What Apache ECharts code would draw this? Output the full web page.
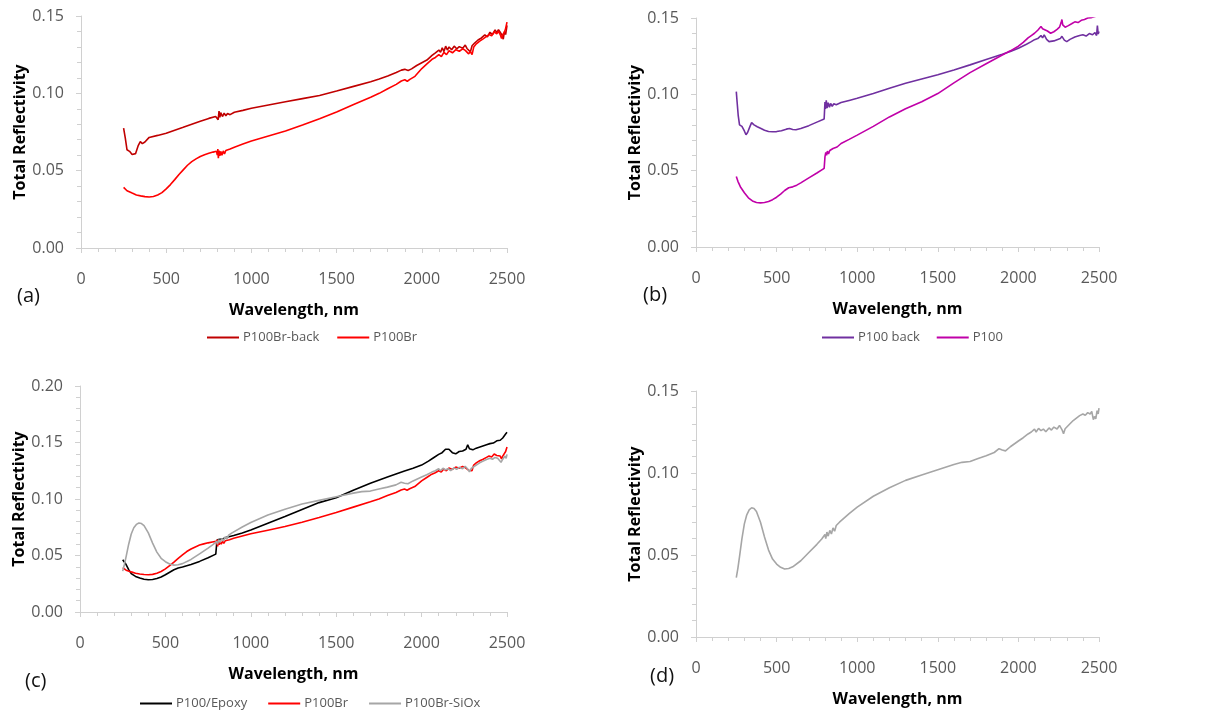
<!DOCTYPE html>
<html>
<head>
<meta charset="utf-8">
<script src="https://cdn.jsdelivr.net/npm/echarts@6/dist/echarts.min.js"></script>
<style>
html,body{margin:0;padding:0;background:#fff;}
#chart{width:1205px;height:711px;}
</style>
</head>
<body>
<div id="chart"></div>
<script>
// ---- DATA: [wavelength nm, total reflectivity] ----
const xTicks = [0, 500, 1000, 1500, 2000, 2500];
const panelLabels = ['(a)', '(b)', '(c)', '(d)'];

const p100BrBack = [[250,0.0775],[260,0.0710],[270,0.0635],[285,0.0625],[300,0.0605],[310,0.0598],[320,0.0610],[335,0.0660],[348,0.0688],[360,0.0675],[375,0.0685],[400,0.0715],[450,0.0728],[500,0.0742],[550,0.0762],[600,0.0780],[650,0.0800],[700,0.0820],[750,0.0838],[790,0.0850],[800,0.0862],[805,0.0830],[810,0.0885],[815,0.0845],[820,0.0875],[830,0.0850],[840,0.0872],[850,0.0855],[860,0.0870],[875,0.0862],[900,0.0878],[950,0.0890],[1000,0.0903],[1100,0.0925],[1200,0.0946],[1300,0.0966],[1400,0.0986],[1500,0.1015],[1600,0.1045],[1700,0.1075],[1750,0.1092],[1800,0.1112],[1850,0.1135],[1880,0.1150],[1900,0.1155],[1920,0.1148],[1940,0.1158],[1970,0.1180],[2000,0.1198],[2030,0.1215],[2060,0.1245],[2080,0.1262],[2100,0.1280],[2110,0.1265],[2120,0.1295],[2130,0.1270],[2140,0.1305],[2150,0.1280],[2160,0.1300],[2175,0.1282],[2190,0.1305],[2205,0.1288],[2220,0.1302],[2240,0.1292],[2255,0.1312],[2265,0.1290],[2275,0.1300],[2285,0.1268],[2295,0.1308],[2310,0.1325],[2330,0.1345],[2350,0.1358],[2370,0.1378],[2385,0.1365],[2400,0.1395],[2415,0.1380],[2430,0.1410],[2440,0.1392],[2450,0.1412],[2460,0.1395],[2470,0.1378],[2478,0.1350],[2485,0.1400],[2492,0.1380],[2500,0.1440]];

const p100Br = [[250,0.0392],[270,0.0370],[300,0.0355],[325,0.0343],[350,0.0337],[375,0.0332],[400,0.0330],[425,0.0333],[450,0.0343],[475,0.0358],[500,0.0382],[525,0.0410],[550,0.0442],[575,0.0475],[600,0.0505],[625,0.0535],[650,0.0558],[675,0.0576],[700,0.0592],[725,0.0603],[750,0.0612],[775,0.0620],[795,0.0625],[800,0.0600],[803,0.0640],[806,0.0580],[810,0.0630],[815,0.0595],[820,0.0625],[827,0.0600],[835,0.0628],[842,0.0608],[850,0.0630],[860,0.0618],[875,0.0640],[900,0.0652],[950,0.0672],[1000,0.0692],[1100,0.0724],[1200,0.0756],[1300,0.0795],[1400,0.0836],[1500,0.0880],[1600,0.0928],[1700,0.0975],[1750,0.1000],[1800,0.1030],[1850,0.1058],[1880,0.1080],[1900,0.1088],[1915,0.1078],[1930,0.1090],[1960,0.1110],[2000,0.1160],[2030,0.1190],[2060,0.1220],[2080,0.1232],[2100,0.1250],[2115,0.1238],[2130,0.1265],[2145,0.1250],[2160,0.1275],[2180,0.1262],[2200,0.1282],[2220,0.1272],[2240,0.1288],[2255,0.1278],[2265,0.1290],[2275,0.1255],[2285,0.1270],[2295,0.1250],[2305,0.1300],[2320,0.1320],[2340,0.1338],[2360,0.1352],[2380,0.1368],[2395,0.1380],[2410,0.1372],[2425,0.1398],[2440,0.1385],[2450,0.1400],[2460,0.1380],[2468,0.1355],[2475,0.1380],[2485,0.1395],[2492,0.1420],[2500,0.1460]];

const p100Back = [[250,0.1018],[255,0.0950],[262,0.0860],[270,0.0800],[285,0.0790],[300,0.0760],[310,0.0735],[320,0.0750],[335,0.0790],[345,0.0815],[360,0.0800],[380,0.0788],[400,0.0778],[425,0.0765],[450,0.0757],[475,0.0755],[500,0.0756],[530,0.0762],[560,0.0772],[580,0.0776],[600,0.0770],[620,0.0768],[650,0.0776],[700,0.0795],[750,0.0818],[795,0.0838],[800,0.0950],[803,0.0905],[808,0.0960],[813,0.0910],[820,0.0945],[828,0.0915],[835,0.0940],[845,0.0922],[855,0.0938],[870,0.0932],[900,0.0946],[950,0.0960],[1000,0.0974],[1100,0.1005],[1200,0.1040],[1300,0.1072],[1400,0.1100],[1500,0.1128],[1600,0.1160],[1700,0.1193],[1800,0.1228],[1900,0.1262],[1950,0.1280],[2000,0.1302],[2050,0.1328],[2080,0.1345],[2100,0.1358],[2120,0.1365],[2140,0.1385],[2150,0.1370],[2160,0.1390],[2175,0.1360],[2190,0.1345],[2200,0.1335],[2220,0.1350],[2240,0.1358],[2260,0.1365],[2270,0.1380],[2285,0.1355],[2300,0.1345],[2320,0.1360],[2350,0.1375],[2380,0.1385],[2400,0.1390],[2420,0.1382],[2440,0.1398],[2460,0.1390],[2475,0.1405],[2485,0.1385],[2490,0.1450],[2495,0.1395],[2500,0.1412]];

const p100 = [[250,0.0462],[260,0.0430],[275,0.0395],[300,0.0355],[325,0.0322],[350,0.0302],[375,0.0292],[400,0.0289],[425,0.0291],[450,0.0298],[475,0.0310],[500,0.0326],[525,0.0347],[550,0.0370],[575,0.0388],[600,0.0394],[625,0.0405],[650,0.0420],[700,0.0453],[750,0.0485],[795,0.0515],[800,0.0590],[805,0.0620],[810,0.0600],[815,0.0628],[822,0.0610],[830,0.0632],[840,0.0622],[850,0.0645],[860,0.0635],[875,0.0655],[900,0.0678],[950,0.0705],[1000,0.0733],[1100,0.0790],[1200,0.0852],[1300,0.0905],[1400,0.0952],[1500,0.1005],[1600,0.1075],[1700,0.1142],[1800,0.1200],[1900,0.1258],[1950,0.1285],[2000,0.1315],[2030,0.1340],[2060,0.1370],[2080,0.1385],[2100,0.1400],[2120,0.1420],[2140,0.1445],[2150,0.1430],[2160,0.1440],[2180,0.1415],[2200,0.1400],[2220,0.1410],[2240,0.1425],[2255,0.1440],[2265,0.1470],[2270,0.1490],[2275,0.1455],[2290,0.1440],[2310,0.1450],[2330,0.1462],[2350,0.1475],[2370,0.1470],[2390,0.1485],[2410,0.1490],[2430,0.1500],[2450,0.1502],[2470,0.1508],[2490,0.1515],[2500,0.1520]];

const p100Epoxy = [[250,0.0462],[260,0.0445],[270,0.0420],[285,0.0375],[300,0.0340],[325,0.0315],[350,0.0300],[375,0.0290],[400,0.0286],[425,0.0288],[450,0.0296],[475,0.0310],[500,0.0330],[525,0.0352],[550,0.0374],[575,0.0390],[600,0.0398],[650,0.0420],[700,0.0448],[750,0.0480],[795,0.0512],[800,0.0600],[805,0.0640],[815,0.0625],[825,0.0645],[840,0.0650],[860,0.0662],[900,0.0677],[950,0.0700],[1000,0.0725],[1100,0.0785],[1200,0.0845],[1300,0.0908],[1400,0.0968],[1500,0.1012],[1600,0.1078],[1700,0.1140],[1800,0.1195],[1900,0.1248],[1950,0.1272],[2000,0.1300],[2040,0.1335],[2070,0.1365],[2100,0.1395],[2120,0.1410],[2140,0.1440],[2150,0.1425],[2160,0.1440],[2180,0.1410],[2200,0.1400],[2220,0.1420],[2240,0.1425],[2260,0.1440],[2270,0.1480],[2280,0.1445],[2300,0.1435],[2320,0.1450],[2350,0.1465],[2380,0.1480],[2400,0.1490],[2420,0.1495],[2440,0.1515],[2460,0.1520],[2475,0.1540],[2485,0.1530],[2492,0.1575],[2500,0.1590]];

const p100BrSiOx = [[250,0.0362],[260,0.0420],[270,0.0490],[285,0.0600],[300,0.0690],[315,0.0745],[330,0.0775],[345,0.0788],[360,0.0783],[375,0.0765],[400,0.0700],[425,0.0610],[450,0.0530],[475,0.0475],[500,0.0445],[525,0.0425],[550,0.0415],[575,0.0418],[600,0.0428],[650,0.0465],[700,0.0515],[750,0.0565],[780,0.0598],[800,0.0625],[805,0.0600],[812,0.0640],[820,0.0615],[830,0.0650],[840,0.0628],[850,0.0665],[860,0.0645],[870,0.0680],[880,0.0670],[890,0.0700],[900,0.0708],[950,0.0752],[1000,0.0792],[1100,0.0858],[1200,0.0910],[1300,0.0955],[1400,0.0988],[1500,0.1020],[1600,0.1052],[1650,0.1065],[1700,0.1070],[1750,0.1088],[1800,0.1105],[1850,0.1125],[1880,0.1148],[1900,0.1140],[1920,0.1135],[1950,0.1160],[2000,0.1195],[2030,0.1215],[2060,0.1238],[2080,0.1250],[2100,0.1268],[2110,0.1250],[2125,0.1272],[2140,0.1258],[2155,0.1268],[2170,0.1252],[2190,0.1275],[2205,0.1262],[2220,0.1280],[2240,0.1268],[2255,0.1290],[2270,0.1265],[2280,0.1240],[2290,0.1270],[2300,0.1282],[2320,0.1300],[2340,0.1320],[2360,0.1335],[2380,0.1350],[2400,0.1360],[2415,0.1352],[2430,0.1368],[2445,0.1360],[2455,0.1375],[2465,0.1325],[2472,0.1345],[2480,0.1330],[2488,0.1380],[2495,0.1360],[2500,0.1395]];

// ---- LAYOUT / STYLE ----
const FONT = 'Open Sans';
const AXIS_COLOR = '#d0d0d0';
const LABEL_COLOR = '#595959';

const grids = [
  {left: 81, top: 16, width: 426, height: 232},
  {left: 696, top: 18, width: 403, height: 229},
  {left: 80, top: 386, width: 427, height: 226},
  {left: 696, top: 391, width: 403, height: 246}
];
const yMaxes = [0.15, 0.15, 0.20, 0.15];

function xAxisFor(i) {
  return {
    type: 'value', gridIndex: i, min: xTicks[0], max: xTicks[xTicks.length-1], interval: 500,
    name: 'Wavelength, nm', nameLocation: 'middle', nameGap: 54,
    nameTextStyle: {fontFamily: FONT, fontWeight: 'bold', fontSize: 16, color: '#000'},
    axisLine: {show: true, lineStyle: {color: AXIS_COLOR, width: 1}},
    axisTick: {show: true, inside: false, length: 5, lineStyle: {color: AXIS_COLOR}},
    minorTick: {show: true, splitNumber: 5, length: 4, lineStyle: {color: AXIS_COLOR}},
    splitLine: {show: false},
    axisLabel: {color: LABEL_COLOR, fontFamily: FONT, fontSize: 16, margin: 23,
      formatter: v => String(v)}
  };
}
function yAxisFor(i) {
  return {
    type: 'value', gridIndex: i, min: 0, max: yMaxes[i], interval: 0.05,
    name: 'Total Reflectivity', nameLocation: 'middle', nameGap: 52,
    nameTextStyle: {fontFamily: FONT, fontWeight: 'bold', fontSize: 16, color: '#000'},
    axisLine: {show: true, lineStyle: {color: AXIS_COLOR, width: 1}},
    axisTick: {show: true, inside: false, length: 5, lineStyle: {color: AXIS_COLOR}},
    minorTick: {show: true, splitNumber: 5, length: 4, lineStyle: {color: AXIS_COLOR}},
    splitLine: {show: false},
    axisLabel: {color: LABEL_COLOR, fontFamily: FONT, fontSize: 16, margin: 17,
      formatter: v => v.toFixed(2)}
  };
}
function line(name, data, idx, color) {
  return {
    type: 'line', name: name, data: data, xAxisIndex: idx, yAxisIndex: idx,
    symbol: 'none', showSymbol: false, clip: true, smooth: false,
    lineStyle: {color: color, width: 1.6}, itemStyle: {color: color},
    emphasis: {disabled: true}
  };
}
function legendFor(left, top, names, gap) {
  return {
    left: left, top: top, data: names, icon: 'rect', itemWidth: 32, itemHeight: 2,
    itemGap: gap, padding: 0,
    textStyle: {color: LABEL_COLOR, fontFamily: FONT, fontSize: 13, padding: [0,0,0,-1]}
  };
}
const panelPos = [[17, 286], [643, 285], [25, 671], [650, 666]];

const chart = echarts.init(document.getElementById('chart'), null, {renderer: 'canvas'});
chart.setOption({
  animation: false,
  backgroundColor: '#fff',
  grid: grids.map(g => Object.assign({outerBoundsMode: 'none', containLabel: false}, g)),
  xAxis: [0,1,2,3].map(xAxisFor),
  yAxis: [0,1,2,3].map(yAxisFor),
  legend: [
    legendFor(207, 331, ['P100Br-back', 'P100Br'], 18),
    legendFor(822, 331, ['P100 back', 'P100'], 17),
    legendFor(140, 697, ['P100/Epoxy', 'P100Br', 'P100Br-SiOx'], 21)
  ],
  series: [
    line('P100Br-back', p100BrBack, 0, '#C00000'),
    line('P100Br', p100Br, 0, '#FF0000'),
    line('P100 back', p100Back, 1, '#7030A0'),
    line('P100', p100, 1, '#C000A8'),
    line('P100/Epoxy', p100Epoxy, 2, '#000000'),
    line('P100Br', p100Br, 2, '#FF0000'),
    line('P100Br-SiOx', p100BrSiOx, 2, '#A6A6A6'),
    line('P100Br-SiOx', p100BrSiOx, 3, '#A6A6A6')
  ],
  graphic: panelLabels.map((t, i) => ({
    type: 'text', left: panelPos[i][0], top: panelPos[i][1],
    style: {text: t, fontFamily: FONT, fontSize: 20, fill: '#111'}
  }))
});
</script>
</body>
</html>
